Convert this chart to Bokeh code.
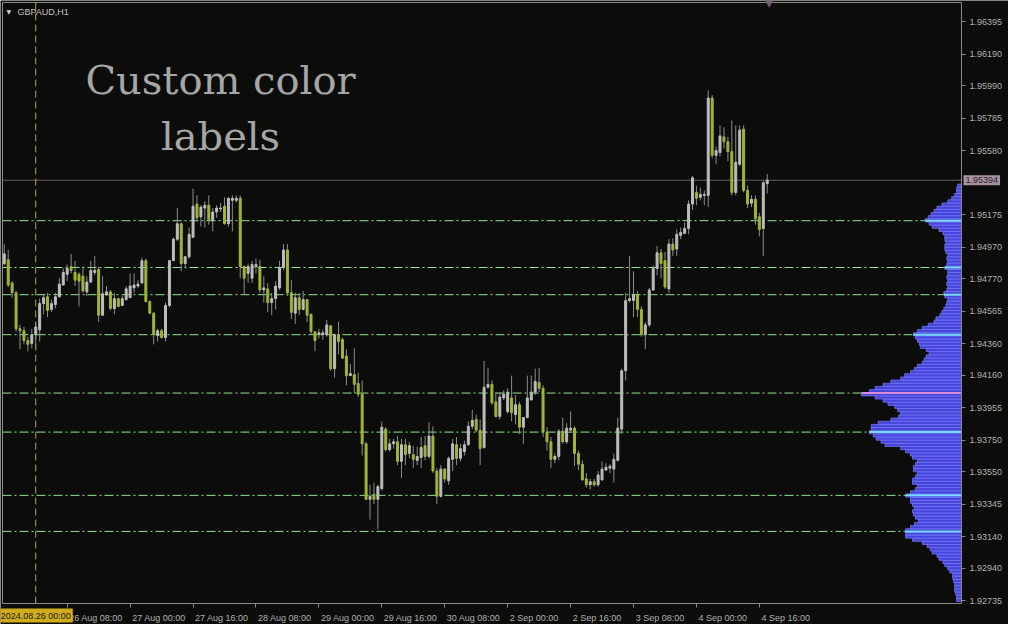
import numpy as np
from bokeh.plotting import figure
from bokeh.models import (Range1d, FixedTicker, PrintfTickFormatter, Label, ColumnDataSource)
from bokeh.embed import file_html
from bokeh.resources import INLINE

# ---------------- data ----------------
symbol = "GBPAUD,H1"
headline = ["Custom color", "labels"]

open_ = [1.94867, 1.94891, 1.94744, 1.94682, 1.94454, 1.94442, 1.94380, 1.94362, 1.94417, 1.94448,
         1.94614, 1.94657, 1.94577, 1.94608, 1.94657, 1.94731, 1.94799, 1.94848, 1.94811, 1.94799,
         1.94787, 1.94688, 1.94750, 1.94811, 1.94830, 1.94540, 1.94670, 1.94688, 1.94583, 1.94645,
         1.94602, 1.94639, 1.94651, 1.94713, 1.94725, 1.94744, 1.94885, 1.94627, 1.94553, 1.94411,
         1.94442, 1.94399, 1.94602, 1.94885, 1.95021, 1.95119, 1.94867, 1.94910, 1.95033, 1.95243,
         1.95163, 1.95218, 1.95236, 1.95138, 1.95193, 1.95212, 1.95230, 1.95119, 1.95267, 1.95267,
         1.95280, 1.94848, 1.94805, 1.94774, 1.94848, 1.94848, 1.94700, 1.94707, 1.94620, 1.94645,
         1.94713, 1.94842, 1.94953, 1.94682, 1.94553, 1.94651, 1.94577, 1.94639, 1.94547, 1.94436,
         1.94417, 1.94417, 1.94417, 1.94473, 1.94202, 1.94417, 1.94386, 1.94282, 1.94158, 1.94165,
         1.94109, 1.94041, 1.93727, 1.93376, 1.93407, 1.93376, 1.93444, 1.93820, 1.93690, 1.93727,
         1.93740, 1.93616, 1.93721, 1.93666, 1.93659, 1.93622, 1.93641, 1.93715, 1.93647, 1.93776,
         1.93555, 1.93395, 1.93567, 1.93493, 1.93629, 1.93721, 1.93635, 1.93678, 1.93721, 1.93838,
         1.93881, 1.93813, 1.93703, 1.94084, 1.94103, 1.93992, 1.93900, 1.94017, 1.93931, 1.94017,
         1.93912, 1.93974, 1.93832, 1.93893, 1.94004, 1.94054, 1.94115, 1.94078, 1.93801, 1.93740,
         1.93629, 1.93647, 1.93807, 1.93740, 1.93813, 1.93826, 1.93666, 1.93598, 1.93505, 1.93468,
         1.93487, 1.93468, 1.93499, 1.93561, 1.93573, 1.93567, 1.93622, 1.93820, 1.94189, 1.94633,
         1.94633, 1.94670, 1.94577, 1.94417, 1.94479, 1.94700, 1.94836, 1.94935, 1.94885, 1.94707,
         1.94990, 1.94959, 1.95045, 1.95058, 1.95089, 1.95243, 1.95317, 1.95286, 1.95298, 1.95298,
         1.95914, 1.95551, 1.95569, 1.95668, 1.95637, 1.95575, 1.95317, 1.95495, 1.95717, 1.95329,
         1.95249, 1.95273, 1.95163, 1.95089, 1.95372]

high = [1.94990, 1.94953, 1.94756, 1.94694, 1.94479, 1.94466, 1.94405, 1.94454, 1.94497, 1.94645,
        1.94670, 1.94682, 1.94639, 1.94682, 1.94774, 1.94836, 1.94861, 1.94928, 1.94885, 1.94811,
        1.94848, 1.94787, 1.94885, 1.94916, 1.94848, 1.94787, 1.94725, 1.94700, 1.94682, 1.94651,
        1.94663, 1.94725, 1.94805, 1.94805, 1.94762, 1.94904, 1.94898, 1.94633, 1.94559, 1.94454,
        1.94454, 1.94620, 1.94891, 1.95033, 1.95218, 1.95126, 1.94916, 1.95095, 1.95341, 1.95298,
        1.95236, 1.95261, 1.95298, 1.95218, 1.95236, 1.95249, 1.95286, 1.95286, 1.95298, 1.95298,
        1.95298, 1.94855, 1.94867, 1.94885, 1.94898, 1.94891, 1.94787, 1.94744, 1.94682, 1.94756,
        1.94885, 1.94990, 1.94990, 1.94762, 1.94682, 1.94682, 1.94694, 1.94639, 1.94547, 1.94436,
        1.94454, 1.94448, 1.94510, 1.94479, 1.94423, 1.94497, 1.94399, 1.94325, 1.94232, 1.94331,
        1.94177, 1.94128, 1.93740, 1.93468, 1.93481, 1.93468, 1.93869, 1.93832, 1.93758, 1.93758,
        1.93776, 1.93758, 1.93758, 1.93740, 1.93715, 1.93709, 1.93770, 1.93776, 1.93863, 1.93838,
        1.93573, 1.93592, 1.93573, 1.93647, 1.93758, 1.93770, 1.93727, 1.93746, 1.93869, 1.93943,
        1.93912, 1.93881, 1.94251, 1.94208, 1.94128, 1.94054, 1.94054, 1.94066, 1.94078, 1.94158,
        1.94035, 1.93992, 1.93893, 1.94158, 1.94158, 1.94202, 1.94208, 1.94097, 1.93832, 1.93770,
        1.93666, 1.93820, 1.93893, 1.93857, 1.93931, 1.93838, 1.93684, 1.93622, 1.93542, 1.93505,
        1.93505, 1.93555, 1.93616, 1.93604, 1.93598, 1.93666, 1.93893, 1.94202, 1.94682, 1.94916,
        1.94818, 1.94694, 1.94596, 1.94497, 1.94713, 1.94855, 1.94978, 1.94959, 1.94941, 1.95021,
        1.95027, 1.95082, 1.95095, 1.95126, 1.95267, 1.95421, 1.95360, 1.95347, 1.95329, 1.95963,
        1.95932, 1.95606, 1.95741, 1.95729, 1.95668, 1.95772, 1.95741, 1.95741, 1.95741, 1.95360,
        1.95298, 1.95298, 1.95187, 1.95390, 1.95434]

low = [1.94855, 1.94719, 1.94651, 1.94436, 1.94325, 1.94356, 1.94312, 1.94331, 1.94325, 1.94374,
       1.94547, 1.94528, 1.94559, 1.94583, 1.94651, 1.94731, 1.94756, 1.94805, 1.94725, 1.94596,
       1.94682, 1.94663, 1.94744, 1.94793, 1.94497, 1.94540, 1.94663, 1.94571, 1.94547, 1.94590,
       1.94602, 1.94633, 1.94651, 1.94682, 1.94713, 1.94744, 1.94620, 1.94547, 1.94356, 1.94374,
       1.94392, 1.94374, 1.94590, 1.94885, 1.95009, 1.94818, 1.94836, 1.94898, 1.95033, 1.95132,
       1.95101, 1.95095, 1.95113, 1.95070, 1.95156, 1.95193, 1.95113, 1.95101, 1.95070, 1.95255,
       1.94774, 1.94670, 1.94744, 1.94744, 1.94805, 1.94682, 1.94620, 1.94559, 1.94540, 1.94577,
       1.94700, 1.94824, 1.94663, 1.94516, 1.94485, 1.94540, 1.94571, 1.94497, 1.94423, 1.94312,
       1.94392, 1.94386, 1.94405, 1.94189, 1.94146, 1.94294, 1.94263, 1.94097, 1.94158, 1.94048,
       1.94023, 1.93653, 1.93370, 1.93247, 1.93345, 1.93185, 1.93431, 1.93678, 1.93678, 1.93696,
       1.93592, 1.93512, 1.93592, 1.93635, 1.93573, 1.93592, 1.93573, 1.93622, 1.93635, 1.93542,
       1.93345, 1.93388, 1.93481, 1.93468, 1.93555, 1.93592, 1.93616, 1.93653, 1.93715, 1.93820,
       1.93801, 1.93592, 1.93696, 1.94078, 1.93974, 1.93893, 1.93881, 1.94004, 1.93918, 1.93869,
       1.93850, 1.93789, 1.93727, 1.93893, 1.94004, 1.94035, 1.94054, 1.93770, 1.93684, 1.93573,
       1.93604, 1.93622, 1.93727, 1.93727, 1.93807, 1.93585, 1.93561, 1.93493, 1.93450, 1.93438,
       1.93456, 1.93456, 1.93493, 1.93555, 1.93542, 1.93481, 1.93616, 1.93789, 1.94128, 1.94620,
       1.94528, 1.94528, 1.94405, 1.94325, 1.94466, 1.94694, 1.94793, 1.94774, 1.94707, 1.94682,
       1.94916, 1.94916, 1.95021, 1.95052, 1.95052, 1.95206, 1.95236, 1.95267, 1.95236, 1.95224,
       1.95532, 1.95495, 1.95544, 1.95594, 1.95514, 1.95298, 1.95298, 1.95483, 1.95317, 1.95218,
       1.95224, 1.95113, 1.95039, 1.94916, 1.95310]

close = [1.94928, 1.94731, 1.94682, 1.94454, 1.94442, 1.94380, 1.94356, 1.94417, 1.94466, 1.94614,
         1.94651, 1.94571, 1.94614, 1.94657, 1.94737, 1.94811, 1.94836, 1.94824, 1.94762, 1.94756,
         1.94694, 1.94750, 1.94824, 1.94824, 1.94540, 1.94676, 1.94688, 1.94583, 1.94645, 1.94596,
         1.94645, 1.94707, 1.94725, 1.94731, 1.94737, 1.94885, 1.94627, 1.94553, 1.94417, 1.94442,
         1.94399, 1.94602, 1.94885, 1.95021, 1.95119, 1.94867, 1.94910, 1.95052, 1.95230, 1.95156,
         1.95224, 1.95236, 1.95144, 1.95193, 1.95218, 1.95218, 1.95119, 1.95280, 1.95280, 1.95280,
         1.94848, 1.94774, 1.94848, 1.94861, 1.94861, 1.94700, 1.94713, 1.94620, 1.94645, 1.94725,
         1.94842, 1.94953, 1.94682, 1.94559, 1.94651, 1.94577, 1.94639, 1.94540, 1.94436, 1.94380,
         1.94429, 1.94429, 1.94479, 1.94202, 1.94417, 1.94374, 1.94269, 1.94158, 1.94171, 1.94103,
         1.94041, 1.93727, 1.93376, 1.93395, 1.93376, 1.93456, 1.93832, 1.93690, 1.93727, 1.93740,
         1.93616, 1.93721, 1.93659, 1.93715, 1.93629, 1.93647, 1.93703, 1.93647, 1.93776, 1.93555,
         1.93395, 1.93567, 1.93505, 1.93635, 1.93727, 1.93635, 1.93696, 1.93721, 1.93838, 1.93875,
         1.93813, 1.93696, 1.94084, 1.94103, 1.93986, 1.93900, 1.94023, 1.94041, 1.94054, 1.93924,
         1.93974, 1.93832, 1.93893, 1.94017, 1.94054, 1.94121, 1.94078, 1.93801, 1.93740, 1.93629,
         1.93647, 1.93807, 1.93740, 1.93826, 1.93826, 1.93666, 1.93598, 1.93499, 1.93468, 1.93487,
         1.93468, 1.93530, 1.93567, 1.93579, 1.93585, 1.93629, 1.93826, 1.94189, 1.94633, 1.94645,
         1.94670, 1.94577, 1.94417, 1.94479, 1.94700, 1.94836, 1.94935, 1.94867, 1.94719, 1.94990,
         1.94953, 1.95052, 1.95064, 1.95089, 1.95243, 1.95409, 1.95280, 1.95304, 1.95304, 1.95914,
         1.95551, 1.95581, 1.95674, 1.95637, 1.95575, 1.95317, 1.95507, 1.95711, 1.95329, 1.95243,
         1.95273, 1.95150, 1.95082, 1.95378, 1.95394]

last_price = 1.95394

price_ticks = [1.96395, 1.96190, 1.95990, 1.95785, 1.95580, 1.95175, 1.94970, 1.94770,
               1.94565, 1.94360, 1.94160, 1.93955, 1.93750, 1.93550, 1.93345, 1.93140,
               1.92940, 1.92735]

time_tick_bars = [16, 32, 48, 64, 80, 96, 112, 128, 144, 160, 176, 192]
time_tick_labels = ["26 Aug 08:00", "27 Aug 00:00", "27 Aug 16:00", "28 Aug 08:00",
                    "29 Aug 00:00", "29 Aug 16:00", "30 Aug 08:00", "2 Sep 00:00",
                    "2 Sep 16:00", "3 Sep 08:00", "4 Sep 00:00", "4 Sep 16:00"]

vline_bar = 8
vline_label = "2024.08.26 00:00"

level_prices = [1.95138, 1.94842, 1.94670, 1.94417, 1.94048, 1.93801, 1.93401, 1.93173]

vp_start = 1.92740
vp_step = 0.0002
vp_volume = [5, 5, 6, 7, 7, 7, 8, 9, 9, 12,
             14, 17, 19, 23, 25, 30, 32, 35, 40, 50,
             57, 57, 57, 52, 48, 44, 47, 49, 50, 48,
             50, 52, 52, 57, 52, 47, 45, 50, 50, 47,
             45, 49, 49, 47, 45, 50, 52, 57, 62, 78,
             82, 87, 90, 94, 92, 92, 85, 72, 64, 62,
             65, 68, 75, 80, 88, 102, 94, 88, 80, 72,
             62, 58, 52, 48, 45, 40, 38, 36, 33, 36,
             42, 43, 45, 47, 49, 45, 40, 34, 28, 26,
             22, 20, 18, 16, 15, 14, 17, 18, 15, 14,
             15, 14, 15, 14, 14, 17, 15, 14, 15, 14,
             16, 17, 17, 16, 17, 17, 19, 23, 30, 33,
             37, 34, 31, 28, 25, 20, 14, 10, 7, 5,
             5, 4]

# ---------------- style / geometry ----------------
BG = "#0c0c0a"
FG = "#b0b0b0"
AXIS = "#8a8a8a"
BULL = "#bdbdbd"
BEAR = "#a3b436"
WICK = "#8c8c8c"
LEVEL_COL = "#8fe88f"
BID_COL = "#6e5c70"
BID_BOX = "#a8949f"
VL_COL = "#b0a63a"
VL_BOX = "#d0ac1c"
VP_FILL = "#4545dc"
VP_LINE = "#7d7dff"
HL_COL = "#78d8ff"
POC_COL = "#d98ad9"

W, H = 1008, 624
CL, CR, CT, CB = 2, 961, 2, 603          # chart area in canvas pixels
X0, X1 = -0.45, 243.4                    # bar-index span of the chart area
Y0, Y1 = 1.92717, 1.96518                # price span of the chart area
ppx = (CR - CL) / (X1 - X0)
ppy = (CB - CT) / (Y1 - Y0)

p = figure(width=W, height=H, output_backend="svg", toolbar_location=None,
           x_range=Range1d(X0 - CL / ppx, X1 + (W - CR) / ppx),
           y_range=Range1d(Y0 - (H - CB) / ppy, Y1 + CT / ppy),
           background_fill_color=BG, border_fill_color=BG,
           min_border=0, y_axis_location="right", outline_line_color=None)
p.xgrid.visible = False
p.ygrid.visible = False

# right price axis, fixed at the chart's right edge
ya = p.yaxis[0]
ya.fixed_location = X1
ya.bounds = (Y0, Y1)
ya.ticker = FixedTicker(ticks=price_ticks)
ya.formatter = PrintfTickFormatter(format="%.5f")
ya.axis_line_color = AXIS
ya.major_tick_line_color = AXIS
ya.major_tick_out = 4
ya.major_tick_in = 0
ya.minor_tick_line_color = None
ya.major_label_standoff = 4
ya.major_label_text_color = FG
ya.major_label_text_font = "Liberation Sans"
ya.major_label_text_font_size = "9px"

# bottom time axis, fixed at the chart's bottom edge: tick marks at the bar times,
# labels starting to the right of them
lab_pos = [round(b + len(t) * 4.8 / 2 / ppx, 2) for b, t in zip(time_tick_bars, time_tick_labels)]
xa = p.xaxis[0]
xa.fixed_location = Y0
xa.bounds = (X0, X1)
xa.ticker = FixedTicker(ticks=lab_pos, minor_ticks=time_tick_bars)
xa.major_label_overrides = {pos: t for pos, t in zip(lab_pos, time_tick_labels)}
xa.axis_line_color = AXIS
xa.major_tick_line_color = None
xa.major_tick_out = 0
xa.major_tick_in = 0
xa.minor_tick_line_color = AXIS
xa.minor_tick_out = 4
xa.minor_tick_in = 0
xa.major_label_standoff = 5
xa.major_label_text_color = FG
xa.major_label_text_font = "Liberation Sans"
xa.major_label_text_font_size = "9px"

# chart border (top and left)
p.segment(x0=[X0, X0], y0=[Y1, Y0], x1=[X1, X0], y1=[Y1, Y1], line_color=AXIS, line_width=1)

# horizontal levels, bid line, vertical line
nl = len(level_prices)
p.segment(x0=[X0] * nl, x1=[X1] * nl, y0=level_prices, y1=level_prices,
          line_color=LEVEL_COL, line_dash="9 3 2 3", line_width=1)
p.segment(x0=[X0], x1=[X1], y0=[last_price], y1=[last_price], line_color=BID_COL, line_width=1)
p.segment(x0=[vline_bar], x1=[vline_bar], y0=[Y0], y1=[Y1], line_color=VL_COL,
          line_dash="7 4", line_width=1)

# candles
n = len(close)
idx = np.arange(n)
o = np.array(open_)
c = np.array(close)
src = ColumnDataSource(dict(x=idx, top=np.maximum(o, c), bottom=np.minimum(o, c),
                            high=high, low=low,
                            color=np.where(c >= o, BULL, BEAR)))
p.segment(x0="x", y0="low", x1="x", y1="high", source=src, line_color=WICK, line_width=1)
p.vbar(x="x", width=0.5, top="top", bottom="bottom", fill_color="color",
       line_color="color", line_width=1, source=src)

# volume profile hanging from the chart's right edge
vp_levels = vp_start + vp_step * np.arange(len(vp_volume))
vmax = max(vp_volume)
u = vmax / 100.0            # volume units per pixel
p.extra_x_ranges = {"vp": Range1d(start=CR * u, end=-(W - CR) * u)}
p.hbar(y=vp_levels, left=0, right=vp_volume, height=vp_step, x_range_name="vp",
       fill_color=VP_FILL, line_color=VP_LINE, line_width=0.7)
hk = [int(round((lv - vp_start) / vp_step)) for lv in level_prices]
poc = int(np.argmax(vp_volume))
p.segment(x0=[0] * len(hk), x1=[vp_volume[k] for k in hk],
          y0=level_prices, y1=level_prices, x_range_name="vp",
          line_color=[POC_COL if k == poc else HL_COL for k in hk], line_width=2)

# chart-shift marker at top
p.scatter(x=[n - 0.5], y=[Y1], marker="inverted_triangle", size=9,
          color=BID_COL, line_color=None)

# labels (screen units measured from the canvas' bottom-left)
p.add_layout(Label(x=6, y=H - 11, x_units="screen", y_units="screen", text="\u25bc",
                   text_font="DejaVu Sans", text_font_size="6px", text_color="#d0d0d0",
                   text_baseline="middle"))
p.add_layout(Label(x=17, y=H - 11, x_units="screen", y_units="screen", text=symbol,
                   text_font="Liberation Sans", text_font_size="9px", text_color="#c4c4c4",
                   text_baseline="middle"))
p.add_layout(Label(x=220, y=H - 79, x_units="screen", y_units="screen", text=headline[0],
                   text_font="DejaVu Serif", text_font_size="40px", text_color="#a6a6a6",
                   text_align="center", text_baseline="middle"))
p.add_layout(Label(x=220, y=H - 135, x_units="screen", y_units="screen", text=headline[1],
                   text_font="DejaVu Serif", text_font_size="40px", text_color="#a6a6a6",
                   text_align="center", text_baseline="middle"))

# time label of the vertical line, below the chart
p.add_layout(Label(x=vline_bar, y=H - CB - 5, x_units="data", y_units="screen", text=vline_label,
                   text_font="Liberation Sans", text_font_size="9px", text_color="#1a1a1a",
                   text_align="center", text_baseline="top",
                   background_fill_color=VL_BOX, padding=2))
# bid price label on the price scale
p.add_layout(Label(x=CR + 2, y=last_price, x_units="screen", y_units="data",
                   text=f"{last_price:.5f}", text_font="Liberation Sans", text_font_size="9px",
                   text_color="#2a2030", text_align="left", text_baseline="middle",
                   background_fill_color=BID_BOX, padding=2))

open("out.html", "w").write(file_html(p, INLINE))
